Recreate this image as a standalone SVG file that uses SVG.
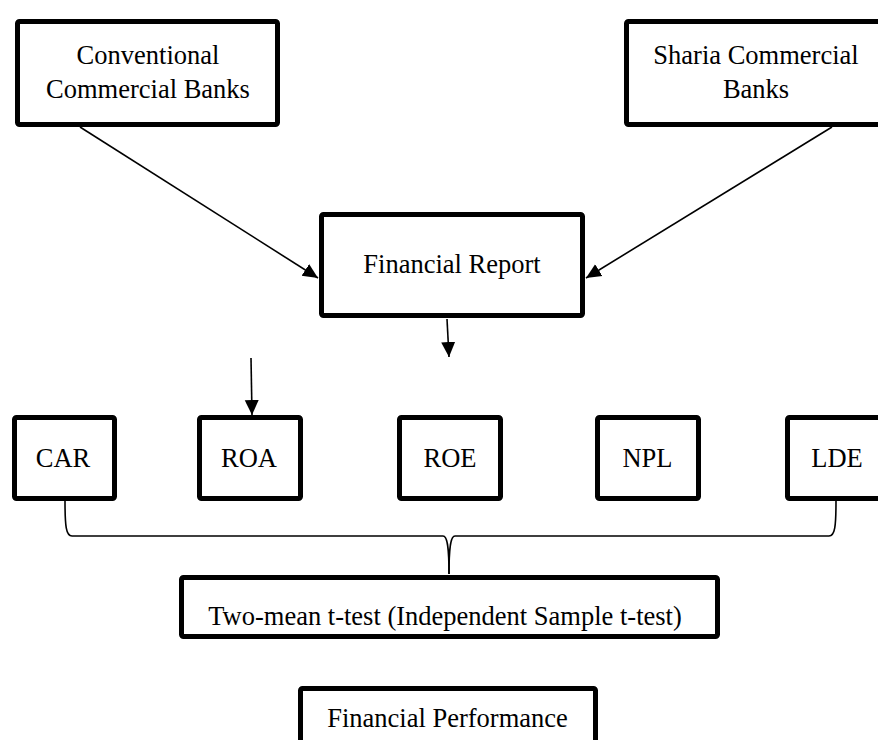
<svg xmlns="http://www.w3.org/2000/svg" width="878" height="740" viewBox="0 0 878 740">
<style>
.box{fill:#fff;stroke:#000;stroke-width:5}
.t{font-family:"Liberation Serif","Times New Roman",serif;font-size:26.5px;fill:#000;text-anchor:middle}
.c{fill:none;stroke:#000;stroke-width:1.6}
</style>
<defs>
<marker id="ah" markerUnits="userSpaceOnUse" markerWidth="16" markerHeight="16" viewBox="0 0 16 16" refX="15" refY="8" orient="auto">
<path d="M0,1 L15,8 L0,15 Z" fill="#000"/>
</marker>
</defs>
<rect width="878" height="740" fill="#fff"/>
<g id="connectors">
<line class="c" x1="80" y1="127" x2="318" y2="278" marker-end="url(#ah)"/>
<line class="c" x1="832" y1="127" x2="586" y2="278" marker-end="url(#ah)"/>
<line class="c" x1="447" y1="319" x2="449" y2="357" marker-end="url(#ah)"/>
<line class="c" x1="251" y1="358" x2="252" y2="415" marker-end="url(#ah)"/>
<path class="c" d="M65,501 C65,526 66,536 72,536 L443,536 C447,536 449,545 449,574"/>
<path class="c" d="M836,501 C836,526 835,536 829,536 L455,536 C451,536 449,545 449,574"/>
</g>
<g id="conventional">
<rect class="box" x="17.5" y="21.5" width="260" height="103" rx="2"/>
<text class="t" x="148" y="64">Conventional</text>
<text class="t" x="148" y="98">Commercial Banks</text>
</g>
<g id="sharia">
<rect class="box" x="626.5" y="21.5" width="260" height="103" rx="2"/>
<text class="t" x="756" y="64">Sharia Commercial</text>
<text class="t" x="756" y="98">Banks</text>
</g>
<g id="financial-report">
<rect class="box" x="321.5" y="214.5" width="261" height="101" rx="2"/>
<text class="t" x="452" y="273">Financial Report</text>
</g>
<g id="car">
<rect class="box" x="14.5" y="417.5" width="100" height="81" rx="2"/>
<text class="t" x="63" y="467">CAR</text>
</g>
<g id="roa">
<rect class="box" x="199.5" y="417.5" width="101" height="81" rx="2"/>
<text class="t" x="249" y="467">ROA</text>
</g>
<g id="roe">
<rect class="box" x="399.5" y="417.5" width="101" height="81" rx="2"/>
<text class="t" x="450" y="467">ROE</text>
</g>
<g id="npl">
<rect class="box" x="597.5" y="417.5" width="101" height="81" rx="2"/>
<text class="t" x="647.5" y="467">NPL</text>
</g>
<g id="lde">
<rect class="box" x="787.5" y="417.5" width="101" height="81" rx="2"/>
<text class="t" x="837" y="467">LDE</text>
</g>
<g id="t-test">
<rect class="box" x="181.5" y="577.5" width="536" height="59" rx="2"/>
<text class="t" x="445" y="625">Two-mean t-test (Independent Sample t-test)</text>
</g>
<g id="financial-performance">
<rect class="box" x="300.5" y="688.5" width="295" height="100" rx="2"/>
<text class="t" x="447.5" y="727">Financial Performance</text>
</g>
</svg>
